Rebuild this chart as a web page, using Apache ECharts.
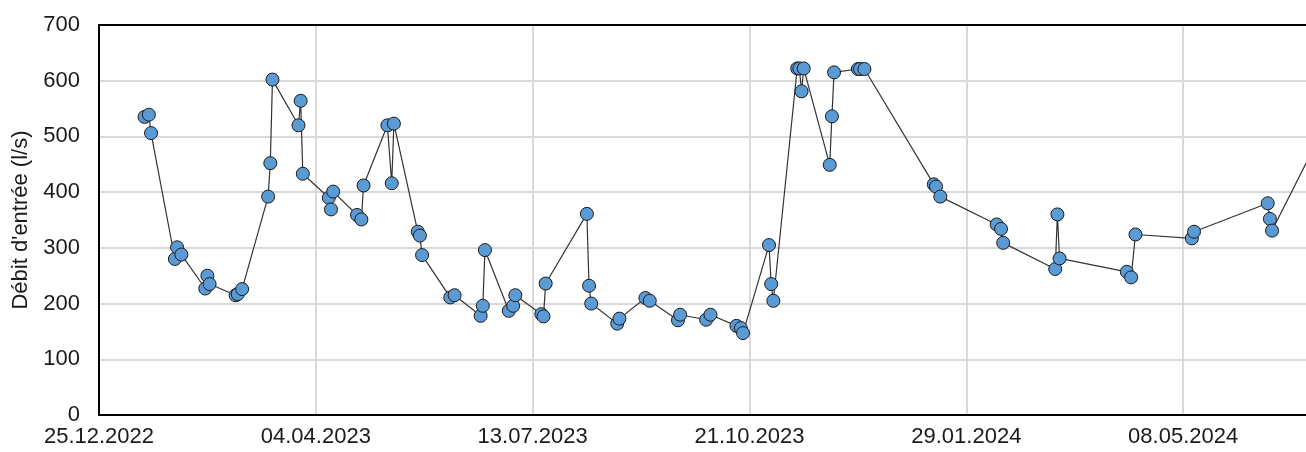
<!DOCTYPE html>
<html>
<head>
<meta charset="utf-8">
<script src="https://cdn.jsdelivr.net/npm/echarts@6/dist/echarts.min.js"></script>
<style>
html,body{margin:0;padding:0;background:#fff;}
#chart{width:1306px;height:452px;}
</style>
</head>
<body>
<div id="chart"></div>
<script>
// Measurement dates
const dates = [
  '2023-01-15','2023-01-17','2023-01-18','2023-01-29','2023-01-30','2023-02-01',
  '2023-02-12','2023-02-13','2023-02-14','2023-02-26','2023-02-27','2023-03-01',
  '2023-03-13','2023-03-14','2023-03-15','2023-03-27','2023-03-28','2023-03-29',
  '2023-04-10','2023-04-11','2023-04-12','2023-04-23','2023-04-25','2023-04-26',
  '2023-05-07','2023-05-09','2023-05-10','2023-05-21','2023-05-22','2023-05-23',
  '2023-06-05','2023-06-07','2023-06-19','2023-06-20','2023-06-21',
  '2023-07-02','2023-07-04','2023-07-05','2023-07-17','2023-07-18','2023-07-19',
  '2023-08-07','2023-08-08','2023-08-09','2023-08-21','2023-08-22',
  '2023-09-03','2023-09-05','2023-09-18','2023-09-19','2023-10-01','2023-10-03',
  '2023-10-15','2023-10-17','2023-10-18','2023-10-30','2023-10-31','2023-11-01',
  '2023-11-12','2023-11-13','2023-11-14','2023-11-15','2023-11-27','2023-11-28','2023-11-29',
  '2023-12-10','2023-12-11','2023-12-13',
  '2024-01-14','2024-01-15','2024-01-17','2024-02-12','2024-02-14','2024-02-15',
  '2024-03-10','2024-03-11','2024-03-12','2024-04-12','2024-04-14','2024-04-16',
  '2024-05-12','2024-05-13','2024-06-16','2024-06-17','2024-06-18','2024-07-09'
];
// Inflow (l/s)
const inflow = [
  535, 539, 506, 280, 301, 288,
  227, 250, 235, 215, 217, 226,
  392, 452, 602, 520, 564, 433,
  390, 369, 401, 359, 351, 412,
  520, 416, 523, 329, 322, 287,
  211, 215, 178, 196, 296,
  187, 196, 215, 181, 177, 236,
  361, 232, 200, 164, 173,
  210, 205, 170, 180, 171, 180,
  160, 156, 147, 305, 235, 205,
  622, 622, 581, 622, 449, 536, 615,
  621, 621, 621,
  414, 410, 392, 342, 334, 309,
  262, 360, 281, 257, 247, 324,
  317, 329, 380, 352, 331, 493
];
// X axis: days since start, labelled as dates
const startDate = '2022-12-25';
const xTickStepDays = 100;
const xMaxDays = 600;
const yTicks = [0, 100, 200, 300, 400, 500, 600, 700];
const yName = "Débit d'entrée (l/s)";

const DAY = 86400000;
function toMs(s){ const p = s.split('-').map(Number); return Date.UTC(p[0], p[1]-1, p[2]); }
const t0 = toMs(startDate);
function dayOf(s){ return Math.round((toMs(s) - t0) / DAY); }
function fmtDay(d){
  const dt = new Date(t0 + d * DAY);
  const dd = String(dt.getUTCDate()).padStart(2,'0');
  const mm = String(dt.getUTCMonth()+1).padStart(2,'0');
  return dd + '.' + mm + '.' + dt.getUTCFullYear();
}
const seriesData = dates.map((d,i) => [dayOf(d), inflow[i]]);

const chart = echarts.init(document.getElementById('chart'), null, {renderer:'canvas'});
const font = 'Liberation Sans, Arial, sans-serif';
const yMin = yTicks[0], yMax = yTicks[yTicks.length-1];
const gridLine = { show: true, lineStyle: { color: '#d9d9d9', width: 2 } };
const blackLine = { show: true, onZero: false, lineStyle: { color: '#000', width: 2 } };
chart.setOption({
  animation: false,
  backgroundColor: '#fff',
  grid: { left: 99, top: 25, bottom: 37, width: 1301, containLabel: false, outerBoundsMode: 'none' },
  xAxis: [{
    type: 'value', position: 'bottom', min: 0, max: xMaxDays, interval: xTickStepDays,
    axisLine: blackLine, axisTick: { show: false }, splitLine: { show: false },
    axisLabel: { color: '#1a1a1a', fontSize: 22, fontFamily: font, margin: 11, formatter: v => fmtDay(v) },
    z: 5
  }, {
    type: 'value', position: 'top', min: 0, max: xMaxDays, interval: xTickStepDays,
    axisLine: blackLine, axisTick: { show: false }, axisLabel: { show: false }, splitLine: { show: false },
    z: 5
  }, {
    type: 'value', position: 'bottom', min: 0, max: xMaxDays, interval: xTickStepDays,
    axisLine: { show: false }, axisTick: { show: false }, axisLabel: { show: false }, splitLine: gridLine,
    z: 1
  }],
  yAxis: [{
    type: 'value', position: 'left', min: yMin, max: yMax, interval: 100,
    name: yName, nameLocation: 'middle', nameGap: 64, nameRotate: 90,
    nameTextStyle: { color: '#1a1a1a', fontSize: 22, fontFamily: font },
    axisLine: blackLine, axisTick: { show: false }, splitLine: { show: false },
    axisLabel: { color: '#1a1a1a', fontSize: 22, fontFamily: font, margin: 19 },
    z: 5
  }, {
    type: 'value', position: 'left', min: yMin, max: yMax, interval: 100,
    axisLine: { show: false }, axisTick: { show: false }, axisLabel: { show: false }, splitLine: gridLine,
    z: 1
  }],
  series: [{
    type: 'line', data: seriesData, xAxisIndex: 0, yAxisIndex: 0,
    symbol: 'circle', symbolSize: 13,
    lineStyle: { color: '#333', width: 1.2 },
    itemStyle: { color: '#5b9bd5', borderColor: '#1a1a1a', borderWidth: 1 },
    clip: false, z: 6
  }]
});
</script>
</body>
</html>
